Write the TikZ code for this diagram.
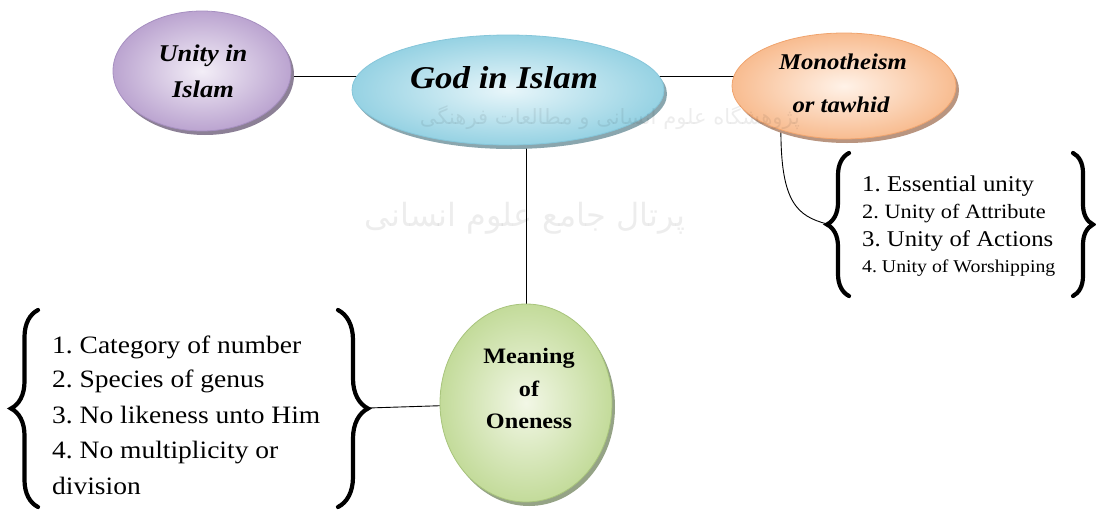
\documentclass[tikz,border=0pt]{standalone}
\usepackage{graphicx}
\usepackage{fontspec}
\setmainfont{Liberation Serif}[FakeStretch=1.1]
\newfontfamily\farsifont[Script=Arabic]{DejaVu Sans}
\TeXXeTstate=1
\frenchspacing
\usetikzlibrary{shapes.geometric,decorations.pathreplacing,backgrounds}
\definecolor{uIn}{HTML}{F3EEF7}\definecolor{uOut}{HTML}{BBA4D0}\definecolor{uDraw}{HTML}{A68FC0}\definecolor{uRim}{HTML}{8C8096}
\definecolor{gIn}{HTML}{E8F6FA}\definecolor{gOut}{HTML}{96D2E3}\definecolor{gDraw}{HTML}{86C6DA}\definecolor{gRim}{HTML}{8AA6AE}
\definecolor{mIn}{HTML}{FFF2E8}\definecolor{mOut}{HTML}{F8BC90}\definecolor{mDraw}{HTML}{F0A46E}\definecolor{mRim}{HTML}{B99580}
\definecolor{nIn}{HTML}{F2F7E6}\definecolor{nOut}{HTML}{C3DB9A}\definecolor{nDraw}{HTML}{A8C47C}\definecolor{nRim}{HTML}{95A386}
\tikzset{
  bubble/.style={ellipse, draw=#1Draw, line width=0.8pt, inner sep=0pt,
    inner color=#1In, outer color=#1Out,
    preaction={fill=#1Rim, transform canvas={shift={(3pt,-4pt)}}}},
  link/.style={line width=0.9pt, draw=black},
  bracket/.style={decorate, decoration={brace, amplitude=#1, aspect=0.5}, line width=4.2pt, line cap=round},
  title/.style={anchor=base, inner sep=0pt, font=\bfseries\itshape\fontsize{#1}{#1}\selectfont},
  btitle/.style={anchor=base, inner sep=0pt, font=\bfseries\fontsize{#1}{#1}\selectfont},
  item/.style={anchor=base west, inner sep=0pt, font=\fontsize{#1}{#1}\selectfont},
  wm/.style={inner sep=0pt, text=black, text opacity=0.07}
}
\begin{document}
\begin{tikzpicture}[x=1pt,y=-1pt]
\useasboundingbox (0,0) rectangle (1096,512);

% ellipses
\node[bubble=u, minimum width=178pt, minimum height=120pt] (unity) at (202,71) {};
\node[bubble=g, minimum width=312pt, minimum height=110pt] (god) at (508,90) {};
\node[bubble=m, minimum width=224pt, minimum height=106pt] (mono) at (844,86) {};
\node[bubble=n, minimum width=172pt, minimum height=198pt] (meaning) at (526,403) {};

% ellipse texts
\node[title=24] (unityA) at (203,61) {Unity in};
\node[title=24] (unityB) at (203,97) {Islam};
\node[title=31.7] (godT) at (504,88) {God in Islam};
\node[title=22.5] (monoA) at (843,69) {Monotheism};
\node[title=22.5] (monoB) at (841,112) {or tawhid};
\node[btitle=22] (meanA) at (529,363) {Meaning};
\node[btitle=22] (meanB) at (529,396) {of};
\node[btitle=22] (meanC) at (529,428) {Oneness};

% right list
\coordinate (rbA) at (849,296);
\coordinate (rbB) at (849,153);
\coordinate (rbC) at (1073,153);
\coordinate (rbD) at (1073,296);
\coordinate (rtip) at (827,224);
\draw[bracket=22pt] (rbA) -- (rbB);
\draw[bracket=20pt] (rbC) -- (rbD);
\node[item=22.6] (r1) at (862,191.5) {1. Essential unity};
\node[item=20.3] (r2) at (862,218.5) {2. Unity of Attribute};
\node[item=22.5] (r3) at (862,246) {3. Unity of Actions};
\node[item=18] (r4) at (862,272) {4. Unity of Worshipping};

% left list
\coordinate (lbA) at (38,507);
\coordinate (lbB) at (38,310);
\coordinate (lbC) at (338,310);
\coordinate (lbD) at (338,507);
\coordinate (ltip) at (368,408);
\draw[bracket=27pt] (lbA) -- (lbB);
\draw[bracket=30pt] (lbC) -- (lbD);
\node[item=25] (l1) at (52,353) {1. Category of number};
\node[item=25] (l2) at (52,387) {2. Species of genus};
\node[item=25] (l3) at (52,423) {3. No likeness unto Him};
\node[item=25] (l4) at (52,458) {4. No multiplicity or};
\node[item=25] (l5) at (52,494) {division};

% connectors
\begin{pgfonlayer}{background}
\draw[link] (unity.center |- 0,76) -- (god.center |- 0,76);
\draw[link] (god.center |- 0,76) -- (mono.center |- 0,76);
\draw[link] (god.center -| meaning.center) -- (meaning.center);
\draw[link] (mono.-145) .. controls +(0,72) and +(-30,-8) .. (rtip);
\draw[link] (meaning.center) -- (ltip);
\end{pgfonlayer}

% faint watermark
\node[wm] (wm1) at (610,118) {\resizebox{380pt}{!}{\farsifont\beginR پژوهشگاه علوم انسانی و مطالعات فرهنگی\endR}};
\node[wm] (wm2) at (525,218) {\resizebox{320pt}{!}{\farsifont\beginR پرتال جامع علوم انسانی\endR}};
\end{tikzpicture}
\end{document}
